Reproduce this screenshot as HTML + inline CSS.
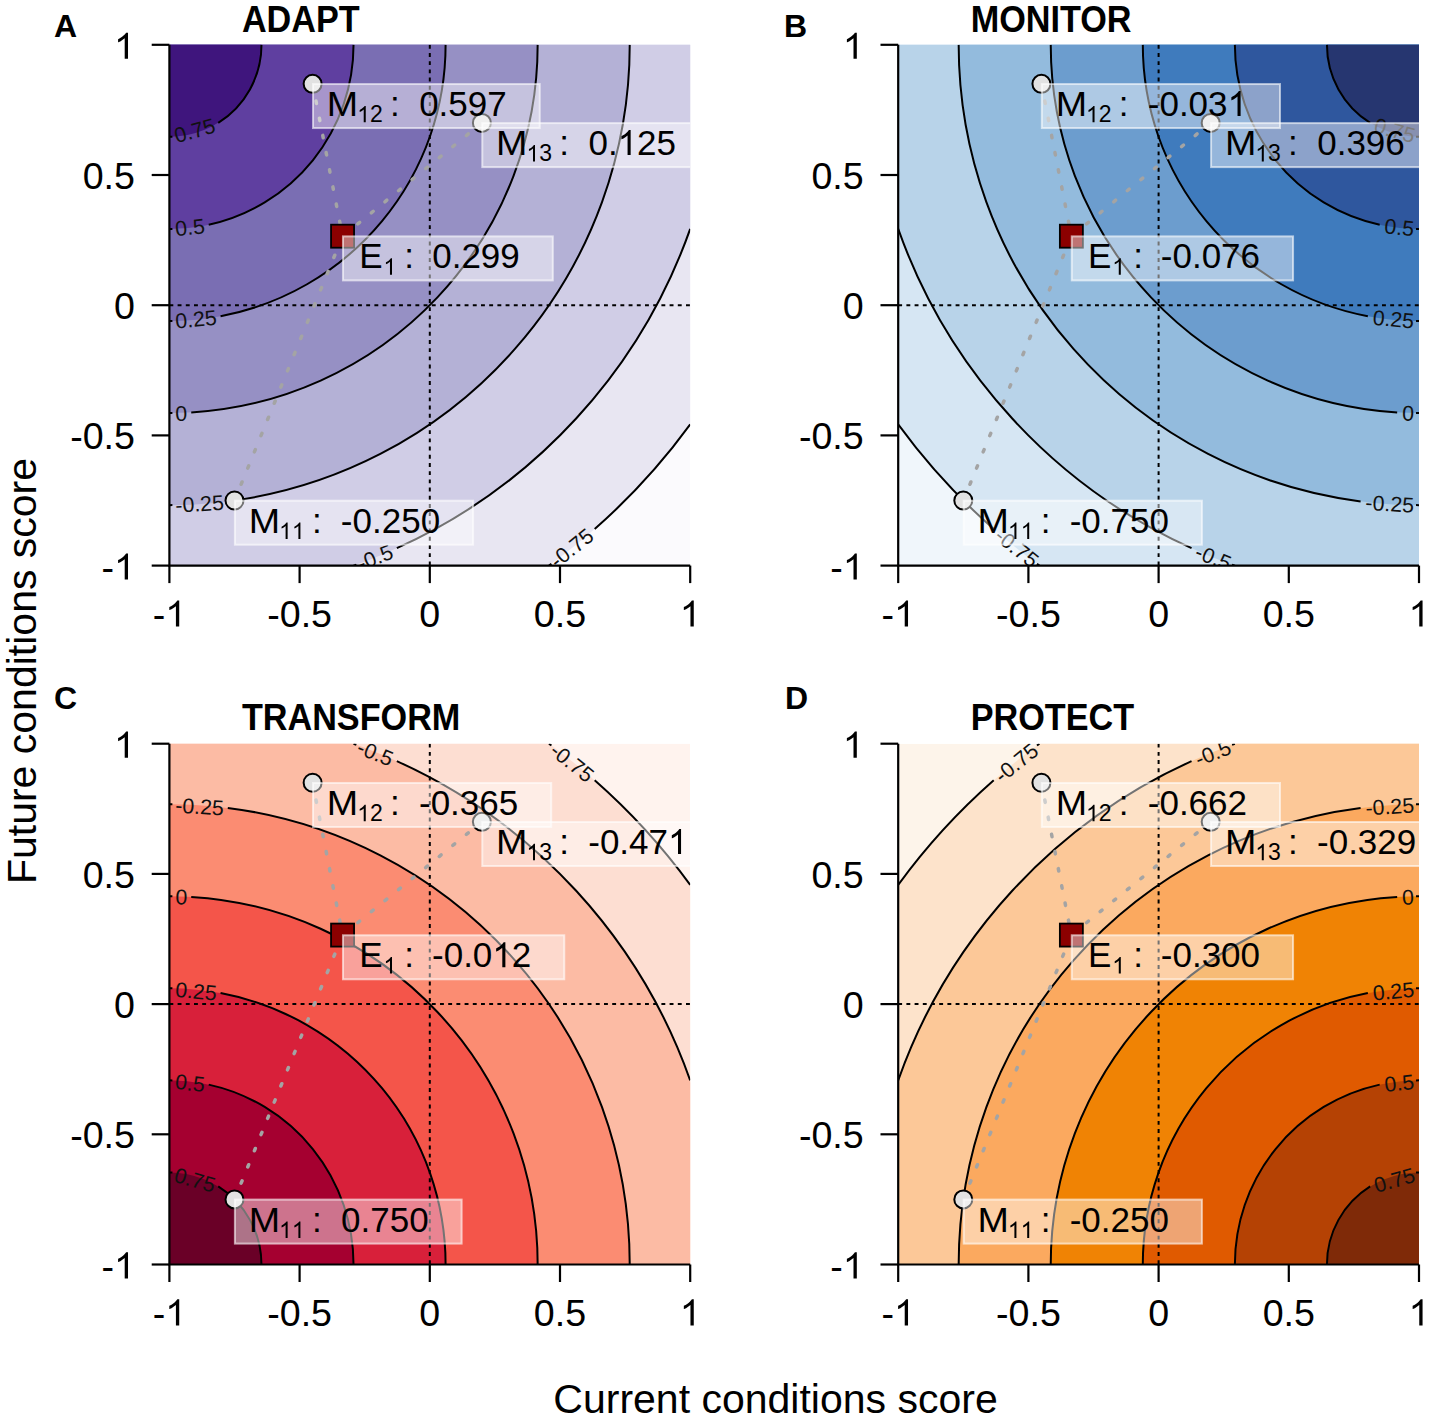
<!DOCTYPE html><html><head><meta charset="utf-8"><style>html,body{margin:0;padding:0;background:#fff;overflow:hidden;}svg{display:block;}text{font-family:"Liberation Sans",sans-serif;}</style></head><body>
<svg width="1429" height="1419" viewBox="0 0 1429 1419">
<rect width="1429" height="1419" fill="#fff"/>
<clipPath id="clipA"><rect x="169.4" y="44.8" width="520.8" height="520.8"/></clipPath>
<g clip-path="url(#clipA)">
<rect x="169.4" y="44.8" width="520.8" height="520.8" fill="#fbfafd"/>
<circle cx="169.40" cy="44.80" r="644.46" fill="#e8e6f2"/>
<circle cx="169.40" cy="44.80" r="552.39" fill="#d0cde6"/>
<circle cx="169.40" cy="44.80" r="460.33" fill="#b4b1d6"/>
<circle cx="169.40" cy="44.80" r="368.26" fill="#9690c4"/>
<circle cx="169.40" cy="44.80" r="276.20" fill="#7a6eb3"/>
<circle cx="169.40" cy="44.80" r="184.13" fill="#5f3fa0"/>
<circle cx="169.40" cy="44.80" r="92.07" fill="#3f157d"/>
<path d="M218.22,122.86 A92.07,92.07 0 0 0 261.47,44.80" fill="none" stroke="#000" stroke-width="2.0"/>
<path d="M169.40,136.87 L172.40,136.82" fill="none" stroke="#000" stroke-width="2.0"/>
<text x="194.81" y="130.86" font-size="21.3" text-anchor="middle" dominant-baseline="central" fill="#111" transform="rotate(-16.01 194.81 130.86)">0.75</text>
<path d="M208.71,224.69 A184.13,184.13 0 0 0 353.53,44.80" fill="none" stroke="#000" stroke-width="2.0"/>
<path d="M169.40,228.93 L172.40,228.91" fill="none" stroke="#000" stroke-width="2.0"/>
<text x="190.05" y="227.81" font-size="21.3" text-anchor="middle" dominant-baseline="central" fill="#111" transform="rotate(-6.16 190.05 227.81)">0.5</text>
<path d="M220.56,316.22 A276.20,276.20 0 0 0 445.60,44.80" fill="none" stroke="#000" stroke-width="2.0"/>
<path d="M169.40,321.00 L172.40,320.98" fill="none" stroke="#000" stroke-width="2.0"/>
<text x="195.98" y="319.61" font-size="21.3" text-anchor="middle" dominant-baseline="central" fill="#111" transform="rotate(-5.34 195.98 319.61)">0.25</text>
<path d="M191.23,412.41 A368.26,368.26 0 0 0 537.66,44.80" fill="none" stroke="#000" stroke-width="2.0"/>
<path d="M169.40,413.06 L172.40,413.05" fill="none" stroke="#000" stroke-width="2.0"/>
<text x="181.32" y="413.74" font-size="21.3" text-anchor="middle" dominant-baseline="central" fill="#111" transform="rotate(-1.70 181.32 413.74)">0</text>
<path d="M227.79,501.41 A460.33,460.33 0 0 0 629.73,44.80" fill="none" stroke="#000" stroke-width="2.0"/>
<path d="M169.40,505.13 L172.40,505.12" fill="none" stroke="#000" stroke-width="2.0"/>
<text x="199.60" y="504.27" font-size="21.3" text-anchor="middle" dominant-baseline="central" fill="#111" transform="rotate(-3.64 199.60 504.27)">-0.25</text>
<path d="M396.85,548.19 A552.39,552.39 0 0 0 690.20,228.93" fill="none" stroke="#000" stroke-width="2.0"/>
<path d="M353.53,565.60 L356.36,564.59" fill="none" stroke="#000" stroke-width="2.0"/>
<text x="375.19" y="557.90" font-size="21.3" text-anchor="middle" dominant-baseline="central" fill="#111" transform="rotate(-21.89 375.19 557.90)">-0.5</text>
<path d="M594.68,529.01 A644.46,644.46 0 0 0 690.20,424.39" fill="none" stroke="#000" stroke-width="2.0"/>
<path d="M548.99,565.60 L551.42,563.83" fill="none" stroke="#000" stroke-width="2.0"/>
<text x="571.84" y="548.31" font-size="21.3" text-anchor="middle" dominant-baseline="central" fill="#111" transform="rotate(-38.69 571.84 548.31)">-0.75</text>
<line x1="169.4" y1="305.20" x2="690.1999999999999" y2="305.20" stroke="#000" stroke-width="2" stroke-dasharray="3.9 4.3"/>
<line x1="429.80" y1="44.8" x2="429.80" y2="565.5999999999999" stroke="#000" stroke-width="2" stroke-dasharray="3.9 4.3"/>
<line x1="234.50" y1="500.50" x2="342.57" y2="236.19" stroke="#a4a4a4" stroke-width="3.5" stroke-linecap="round" stroke-dasharray="2.5 15"/>
<line x1="312.62" y1="83.86" x2="342.57" y2="236.19" stroke="#a4a4a4" stroke-width="3.5" stroke-linecap="round" stroke-dasharray="2.5 15"/>
<line x1="481.88" y1="122.92" x2="342.57" y2="236.19" stroke="#a4a4a4" stroke-width="3.5" stroke-linecap="round" stroke-dasharray="2.5 15"/>
<circle cx="234.50" cy="500.50" r="9" fill="#e2e2e2" stroke="#000" stroke-width="2"/>
<circle cx="312.62" cy="83.86" r="9" fill="#e2e2e2" stroke="#000" stroke-width="2"/>
<circle cx="481.88" cy="122.92" r="9" fill="#e2e2e2" stroke="#000" stroke-width="2"/>
<rect x="331.07" y="224.69" width="23" height="23" fill="#8b0000" stroke="#000" stroke-width="1.8"/>
<rect x="313.02" y="84.06" width="226.72" height="44" fill="#fff" fill-opacity="0.45" stroke="#fff" stroke-opacity="0.6" stroke-width="2"/>
<text transform="translate(342.53 116.06) scale(1.077 1)" font-size="35" text-anchor="middle" fill="#000">M</text>
<g transform="translate(357.17 122.36)" fill="#000" ><path d="M8.58,0.00L6.55,0.00L6.55,-12.88C5.82,-12.19 4.85,-11.50 3.86,-10.92C3.20,-10.53 2.83,-10.49 2.51,-10.40L2.51,-12.37C4.03,-13.09 5.20,-13.94 6.03,-14.79C6.88,-15.64 7.20,-16.10 7.41,-16.47L8.58,-16.47Z"/><text x="12.79" y="0" font-size="23">2</text></g>
<text x="390.02" y="116.06" font-size="35" fill="#000">:</text>
<g transform="translate(419.15 116.06)" fill="#000" ><text x="0.00" y="0" font-size="35">0.597</text></g>
<rect x="482.28" y="123.12" width="226.72" height="44" fill="#fff" fill-opacity="0.45" stroke="#fff" stroke-opacity="0.6" stroke-width="2"/>
<text transform="translate(511.79 155.12) scale(1.077 1)" font-size="35" text-anchor="middle" fill="#000">M</text>
<g transform="translate(526.43 161.42)" fill="#000" ><path d="M8.58,0.00L6.55,0.00L6.55,-12.88C5.82,-12.19 4.85,-11.50 3.86,-10.92C3.20,-10.53 2.83,-10.49 2.51,-10.40L2.51,-12.37C4.03,-13.09 5.20,-13.94 6.03,-14.79C6.88,-15.64 7.20,-16.10 7.41,-16.47L8.58,-16.47Z"/><text x="12.79" y="0" font-size="23">3</text></g>
<text x="559.28" y="155.12" font-size="35" fill="#000">:</text>
<g transform="translate(588.41 155.12)" fill="#000" ><text x="0.00" y="0" font-size="35">0.</text><path d="M42.24,0.00L39.16,0.00L39.16,-19.60C38.04,-18.55 36.57,-17.50 35.07,-16.62C34.05,-16.03 33.49,-15.96 33.00,-15.82L33.00,-18.83C35.31,-19.92 37.10,-21.21 38.36,-22.51C39.65,-23.80 40.14,-24.50 40.46,-25.06L42.24,-25.06Z"/><text x="48.65" y="0" font-size="35">25</text></g>
<rect x="342.97" y="236.39" width="209.82" height="44" fill="#fff" fill-opacity="0.45" stroke="#fff" stroke-opacity="0.6" stroke-width="2"/>
<text x="359.30" y="268.39" font-size="35" fill="#000">E</text>
<g transform="translate(383.42 274.69)" fill="#000" ><path d="M8.58,0.00L6.55,0.00L6.55,-12.88C5.82,-12.19 4.85,-11.50 3.86,-10.92C3.20,-10.53 2.83,-10.49 2.51,-10.40L2.51,-12.37C4.03,-13.09 5.20,-13.94 6.03,-14.79C6.88,-15.64 7.20,-16.10 7.41,-16.47L8.58,-16.47Z"/></g>
<text x="404.37" y="268.39" font-size="35" fill="#000">:</text>
<g transform="translate(432.20 268.39)" fill="#000" ><text x="0.00" y="0" font-size="35">0.299</text></g>
<rect x="234.90" y="500.70" width="238.19" height="44" fill="#fff" fill-opacity="0.45" stroke="#fff" stroke-opacity="0.6" stroke-width="2"/>
<text transform="translate(264.41 532.70) scale(1.077 1)" font-size="35" text-anchor="middle" fill="#000">M</text>
<g transform="translate(279.05 539.00)" fill="#000" ><path d="M8.58,0.00L6.55,0.00L6.55,-12.88C5.82,-12.19 4.85,-11.50 3.86,-10.92C3.20,-10.53 2.83,-10.49 2.51,-10.40L2.51,-12.37C4.03,-13.09 5.20,-13.94 6.03,-14.79C6.88,-15.64 7.20,-16.10 7.41,-16.47L8.58,-16.47Z"/><path d="M21.37,0.00L19.35,0.00L19.35,-12.88C18.61,-12.19 17.64,-11.50 16.66,-10.92C15.99,-10.53 15.62,-10.49 15.30,-10.40L15.30,-12.37C16.82,-13.09 17.99,-13.94 18.82,-14.79C19.67,-15.64 19.99,-16.10 20.20,-16.47L21.37,-16.47Z"/></g>
<text x="311.90" y="532.70" font-size="35" fill="#000">:</text>
<g transform="translate(340.85 532.70)" fill="#000" ><text x="0.00" y="0" font-size="35">-0.250</text></g>
</g>
<path d="M169.4,44.8 V565.5999999999999 H690.1999999999999" fill="none" stroke="#000" stroke-width="2.2"/>
<line x1="151.70000000000002" y1="565.60" x2="169.4" y2="565.60" stroke="#000" stroke-width="2.2"/>
<line x1="169.40" y1="565.5999999999999" x2="169.40" y2="583.0999999999999" stroke="#000" stroke-width="2.2"/>
<g transform="translate(134.90 579.60) scale(1.03 1)" fill="#000" ><text x="-32.45" y="0" font-size="36.5">-</text><path d="M-6.69,0.00L-9.90,0.00L-9.90,-20.44C-11.07,-19.34 -12.60,-18.25 -14.17,-17.34C-15.23,-16.72 -15.81,-16.64 -16.32,-16.50L-16.32,-19.64C-13.91,-20.77 -12.05,-22.12 -10.74,-23.47C-9.39,-24.82 -8.88,-25.55 -8.55,-26.13L-6.69,-26.13Z"/></g>
<g transform="translate(169.40 626.60) scale(1.03 1)" fill="#000" ><text x="-16.23" y="0" font-size="36.5">-</text><path d="M9.54,0.00L6.33,0.00L6.33,-20.44C5.16,-19.34 3.63,-18.25 2.06,-17.34C1.00,-16.72 0.42,-16.64 -0.09,-16.50L-0.09,-19.64C2.32,-20.77 4.18,-22.12 5.49,-23.47C6.84,-24.82 7.35,-25.55 7.68,-26.13L9.54,-26.13Z"/></g>
<line x1="151.70000000000002" y1="435.40" x2="169.4" y2="435.40" stroke="#000" stroke-width="2.2"/>
<line x1="299.60" y1="565.5999999999999" x2="299.60" y2="583.0999999999999" stroke="#000" stroke-width="2.2"/>
<g transform="translate(134.90 449.40) scale(1.03 1)" fill="#000" ><text x="-62.89" y="0" font-size="36.5">-0.5</text></g>
<g transform="translate(299.60 626.60) scale(1.03 1)" fill="#000" ><text x="-31.45" y="0" font-size="36.5">-0.5</text></g>
<line x1="151.70000000000002" y1="305.20" x2="169.4" y2="305.20" stroke="#000" stroke-width="2.2"/>
<line x1="429.80" y1="565.5999999999999" x2="429.80" y2="583.0999999999999" stroke="#000" stroke-width="2.2"/>
<g transform="translate(134.90 319.20) scale(1.03 1)" fill="#000" ><text x="-20.30" y="0" font-size="36.5">0</text></g>
<g transform="translate(429.80 626.60) scale(1.03 1)" fill="#000" ><text x="-10.15" y="0" font-size="36.5">0</text></g>
<line x1="151.70000000000002" y1="175.00" x2="169.4" y2="175.00" stroke="#000" stroke-width="2.2"/>
<line x1="560.00" y1="565.5999999999999" x2="560.00" y2="583.0999999999999" stroke="#000" stroke-width="2.2"/>
<g transform="translate(134.90 189.00) scale(1.03 1)" fill="#000" ><text x="-50.74" y="0" font-size="36.5">0.5</text></g>
<g transform="translate(560.00 626.60) scale(1.03 1)" fill="#000" ><text x="-25.37" y="0" font-size="36.5">0.5</text></g>
<line x1="151.70000000000002" y1="44.80" x2="169.4" y2="44.80" stroke="#000" stroke-width="2.2"/>
<line x1="690.20" y1="565.5999999999999" x2="690.20" y2="583.0999999999999" stroke="#000" stroke-width="2.2"/>
<g transform="translate(134.90 58.80) scale(1.03 1)" fill="#000" ><path d="M-6.69,0.00L-9.90,0.00L-9.90,-20.44C-11.07,-19.34 -12.60,-18.25 -14.17,-17.34C-15.23,-16.72 -15.81,-16.64 -16.32,-16.50L-16.32,-19.64C-13.91,-20.77 -12.05,-22.12 -10.74,-23.47C-9.39,-24.82 -8.88,-25.55 -8.55,-26.13L-6.69,-26.13Z"/></g>
<g transform="translate(690.20 626.60) scale(1.03 1)" fill="#000" ><path d="M3.46,0.00L0.25,0.00L0.25,-20.44C-0.92,-19.34 -2.45,-18.25 -4.02,-17.34C-5.08,-16.72 -5.66,-16.64 -6.17,-16.50L-6.17,-19.64C-3.76,-20.77 -1.90,-22.12 -0.59,-23.47C0.76,-24.82 1.27,-25.55 1.60,-26.13L3.46,-26.13Z"/></g>
<text transform="translate(241.90 31.50) scale(0.945 1)" font-size="36.2" font-weight="bold">ADAPT</text>
<text x="54" y="36.5" font-size="32" font-weight="bold">A</text>
<clipPath id="clipB"><rect x="898.2" y="44.8" width="520.8" height="520.8"/></clipPath>
<g clip-path="url(#clipB)">
<rect x="898.2" y="44.8" width="520.8" height="520.8" fill="#f0f6fb"/>
<circle cx="1419.00" cy="44.80" r="644.46" fill="#d6e6f3"/>
<circle cx="1419.00" cy="44.80" r="552.39" fill="#b8d3e9"/>
<circle cx="1419.00" cy="44.80" r="460.33" fill="#93bbdd"/>
<circle cx="1419.00" cy="44.80" r="368.26" fill="#6c9dce"/>
<circle cx="1419.00" cy="44.80" r="276.20" fill="#3f7bbd"/>
<circle cx="1419.00" cy="44.80" r="184.13" fill="#2f579e"/>
<circle cx="1419.00" cy="44.80" r="92.07" fill="#263670"/>
<path d="M1370.18,122.86 A92.07,92.07 0 0 1 1326.93,44.80" fill="none" stroke="#000" stroke-width="2.0"/>
<path d="M1419.00,136.87 L1416.00,136.82" fill="none" stroke="#000" stroke-width="2.0"/>
<text x="1394.59" y="130.86" font-size="21.3" text-anchor="middle" dominant-baseline="central" fill="#111" transform="rotate(16.01 1394.59 130.86)">0.75</text>
<path d="M1379.69,224.69 A184.13,184.13 0 0 1 1234.87,44.80" fill="none" stroke="#000" stroke-width="2.0"/>
<path d="M1419.00,228.93 L1416.00,228.91" fill="none" stroke="#000" stroke-width="2.0"/>
<text x="1399.35" y="227.81" font-size="21.3" text-anchor="middle" dominant-baseline="central" fill="#111" transform="rotate(6.16 1399.35 227.81)">0.5</text>
<path d="M1367.84,316.22 A276.20,276.20 0 0 1 1142.80,44.80" fill="none" stroke="#000" stroke-width="2.0"/>
<path d="M1419.00,321.00 L1416.00,320.98" fill="none" stroke="#000" stroke-width="2.0"/>
<text x="1393.42" y="319.61" font-size="21.3" text-anchor="middle" dominant-baseline="central" fill="#111" transform="rotate(5.34 1393.42 319.61)">0.25</text>
<path d="M1397.17,412.41 A368.26,368.26 0 0 1 1050.74,44.80" fill="none" stroke="#000" stroke-width="2.0"/>
<path d="M1419.00,413.06 L1416.00,413.05" fill="none" stroke="#000" stroke-width="2.0"/>
<text x="1408.08" y="413.74" font-size="21.3" text-anchor="middle" dominant-baseline="central" fill="#111" transform="rotate(1.70 1408.08 413.74)">0</text>
<path d="M1360.61,501.41 A460.33,460.33 0 0 1 958.67,44.80" fill="none" stroke="#000" stroke-width="2.0"/>
<path d="M1419.00,505.13 L1416.00,505.12" fill="none" stroke="#000" stroke-width="2.0"/>
<text x="1389.80" y="504.27" font-size="21.3" text-anchor="middle" dominant-baseline="central" fill="#111" transform="rotate(3.64 1389.80 504.27)">-0.25</text>
<path d="M1191.55,548.19 A552.39,552.39 0 0 1 898.20,228.93" fill="none" stroke="#000" stroke-width="2.0"/>
<path d="M1234.87,565.60 L1232.04,564.59" fill="none" stroke="#000" stroke-width="2.0"/>
<text x="1213.21" y="557.90" font-size="21.3" text-anchor="middle" dominant-baseline="central" fill="#111" transform="rotate(21.89 1213.21 557.90)">-0.5</text>
<path d="M993.72,529.01 A644.46,644.46 0 0 1 898.20,424.39" fill="none" stroke="#000" stroke-width="2.0"/>
<path d="M1039.41,565.60 L1036.98,563.83" fill="none" stroke="#000" stroke-width="2.0"/>
<text x="1016.56" y="548.31" font-size="21.3" text-anchor="middle" dominant-baseline="central" fill="#111" transform="rotate(38.69 1016.56 548.31)">-0.75</text>
<line x1="898.2" y1="305.20" x2="1419.0" y2="305.20" stroke="#000" stroke-width="2" stroke-dasharray="3.9 4.3"/>
<line x1="1158.60" y1="44.8" x2="1158.60" y2="565.5999999999999" stroke="#000" stroke-width="2" stroke-dasharray="3.9 4.3"/>
<line x1="963.30" y1="500.50" x2="1071.37" y2="236.19" stroke="#a4a4a4" stroke-width="3.5" stroke-linecap="round" stroke-dasharray="2.5 15"/>
<line x1="1041.42" y1="83.86" x2="1071.37" y2="236.19" stroke="#a4a4a4" stroke-width="3.5" stroke-linecap="round" stroke-dasharray="2.5 15"/>
<line x1="1210.68" y1="122.92" x2="1071.37" y2="236.19" stroke="#a4a4a4" stroke-width="3.5" stroke-linecap="round" stroke-dasharray="2.5 15"/>
<circle cx="963.30" cy="500.50" r="9" fill="#e2e2e2" stroke="#000" stroke-width="2"/>
<circle cx="1041.42" cy="83.86" r="9" fill="#e2e2e2" stroke="#000" stroke-width="2"/>
<circle cx="1210.68" cy="122.92" r="9" fill="#e2e2e2" stroke="#000" stroke-width="2"/>
<rect x="1059.87" y="224.69" width="23" height="23" fill="#8b0000" stroke="#000" stroke-width="1.8"/>
<rect x="1041.82" y="84.06" width="238.19" height="44" fill="#fff" fill-opacity="0.45" stroke="#fff" stroke-opacity="0.6" stroke-width="2"/>
<text transform="translate(1071.33 116.06) scale(1.077 1)" font-size="35" text-anchor="middle" fill="#000">M</text>
<g transform="translate(1085.97 122.36)" fill="#000" ><path d="M8.58,0.00L6.55,0.00L6.55,-12.88C5.82,-12.19 4.85,-11.50 3.86,-10.92C3.20,-10.53 2.83,-10.49 2.51,-10.40L2.51,-12.37C4.03,-13.09 5.20,-13.94 6.03,-14.79C6.88,-15.64 7.20,-16.10 7.41,-16.47L8.58,-16.47Z"/><text x="12.79" y="0" font-size="23">2</text></g>
<text x="1118.82" y="116.06" font-size="35" fill="#000">:</text>
<g transform="translate(1147.77 116.06)" fill="#000" ><text x="0.00" y="0" font-size="35">-0.03</text><path d="M92.83,0.00L89.75,0.00L89.75,-19.60C88.63,-18.55 87.16,-17.50 85.66,-16.62C84.64,-16.03 84.08,-15.96 83.59,-15.82L83.59,-18.83C85.90,-19.92 87.69,-21.21 88.95,-22.51C90.24,-23.80 90.73,-24.50 91.05,-25.06L92.83,-25.06Z"/></g>
<rect x="1211.08" y="123.12" width="226.72" height="44" fill="#fff" fill-opacity="0.45" stroke="#fff" stroke-opacity="0.6" stroke-width="2"/>
<text transform="translate(1240.59 155.12) scale(1.077 1)" font-size="35" text-anchor="middle" fill="#000">M</text>
<g transform="translate(1255.23 161.42)" fill="#000" ><path d="M8.58,0.00L6.55,0.00L6.55,-12.88C5.82,-12.19 4.85,-11.50 3.86,-10.92C3.20,-10.53 2.83,-10.49 2.51,-10.40L2.51,-12.37C4.03,-13.09 5.20,-13.94 6.03,-14.79C6.88,-15.64 7.20,-16.10 7.41,-16.47L8.58,-16.47Z"/><text x="12.79" y="0" font-size="23">3</text></g>
<text x="1288.08" y="155.12" font-size="35" fill="#000">:</text>
<g transform="translate(1317.22 155.12)" fill="#000" ><text x="0.00" y="0" font-size="35">0.396</text></g>
<rect x="1071.77" y="236.39" width="221.29" height="44" fill="#fff" fill-opacity="0.45" stroke="#fff" stroke-opacity="0.6" stroke-width="2"/>
<text x="1088.10" y="268.39" font-size="35" fill="#000">E</text>
<g transform="translate(1112.22 274.69)" fill="#000" ><path d="M8.58,0.00L6.55,0.00L6.55,-12.88C5.82,-12.19 4.85,-11.50 3.86,-10.92C3.20,-10.53 2.83,-10.49 2.51,-10.40L2.51,-12.37C4.03,-13.09 5.20,-13.94 6.03,-14.79C6.88,-15.64 7.20,-16.10 7.41,-16.47L8.58,-16.47Z"/></g>
<text x="1133.17" y="268.39" font-size="35" fill="#000">:</text>
<g transform="translate(1160.81 268.39)" fill="#000" ><text x="0.00" y="0" font-size="35">-0.076</text></g>
<rect x="963.70" y="500.70" width="238.19" height="44" fill="#fff" fill-opacity="0.45" stroke="#fff" stroke-opacity="0.6" stroke-width="2"/>
<text transform="translate(993.21 532.70) scale(1.077 1)" font-size="35" text-anchor="middle" fill="#000">M</text>
<g transform="translate(1007.85 539.00)" fill="#000" ><path d="M8.58,0.00L6.55,0.00L6.55,-12.88C5.82,-12.19 4.85,-11.50 3.86,-10.92C3.20,-10.53 2.83,-10.49 2.51,-10.40L2.51,-12.37C4.03,-13.09 5.20,-13.94 6.03,-14.79C6.88,-15.64 7.20,-16.10 7.41,-16.47L8.58,-16.47Z"/><path d="M21.37,0.00L19.35,0.00L19.35,-12.88C18.61,-12.19 17.64,-11.50 16.66,-10.92C15.99,-10.53 15.62,-10.49 15.30,-10.40L15.30,-12.37C16.82,-13.09 17.99,-13.94 18.82,-14.79C19.67,-15.64 19.99,-16.10 20.20,-16.47L21.37,-16.47Z"/></g>
<text x="1040.70" y="532.70" font-size="35" fill="#000">:</text>
<g transform="translate(1069.65 532.70)" fill="#000" ><text x="0.00" y="0" font-size="35">-0.750</text></g>
</g>
<path d="M898.2,44.8 V565.5999999999999 H1419.0" fill="none" stroke="#000" stroke-width="2.2"/>
<line x1="880.5" y1="565.60" x2="898.2" y2="565.60" stroke="#000" stroke-width="2.2"/>
<line x1="898.20" y1="565.5999999999999" x2="898.20" y2="583.0999999999999" stroke="#000" stroke-width="2.2"/>
<g transform="translate(863.70 579.60) scale(1.03 1)" fill="#000" ><text x="-32.45" y="0" font-size="36.5">-</text><path d="M-6.69,0.00L-9.90,0.00L-9.90,-20.44C-11.07,-19.34 -12.60,-18.25 -14.17,-17.34C-15.23,-16.72 -15.81,-16.64 -16.32,-16.50L-16.32,-19.64C-13.91,-20.77 -12.05,-22.12 -10.74,-23.47C-9.39,-24.82 -8.88,-25.55 -8.55,-26.13L-6.69,-26.13Z"/></g>
<g transform="translate(898.20 626.60) scale(1.03 1)" fill="#000" ><text x="-16.23" y="0" font-size="36.5">-</text><path d="M9.54,0.00L6.33,0.00L6.33,-20.44C5.16,-19.34 3.63,-18.25 2.06,-17.34C1.00,-16.72 0.42,-16.64 -0.09,-16.50L-0.09,-19.64C2.32,-20.77 4.18,-22.12 5.49,-23.47C6.84,-24.82 7.35,-25.55 7.68,-26.13L9.54,-26.13Z"/></g>
<line x1="880.5" y1="435.40" x2="898.2" y2="435.40" stroke="#000" stroke-width="2.2"/>
<line x1="1028.40" y1="565.5999999999999" x2="1028.40" y2="583.0999999999999" stroke="#000" stroke-width="2.2"/>
<g transform="translate(863.70 449.40) scale(1.03 1)" fill="#000" ><text x="-62.89" y="0" font-size="36.5">-0.5</text></g>
<g transform="translate(1028.40 626.60) scale(1.03 1)" fill="#000" ><text x="-31.45" y="0" font-size="36.5">-0.5</text></g>
<line x1="880.5" y1="305.20" x2="898.2" y2="305.20" stroke="#000" stroke-width="2.2"/>
<line x1="1158.60" y1="565.5999999999999" x2="1158.60" y2="583.0999999999999" stroke="#000" stroke-width="2.2"/>
<g transform="translate(863.70 319.20) scale(1.03 1)" fill="#000" ><text x="-20.30" y="0" font-size="36.5">0</text></g>
<g transform="translate(1158.60 626.60) scale(1.03 1)" fill="#000" ><text x="-10.15" y="0" font-size="36.5">0</text></g>
<line x1="880.5" y1="175.00" x2="898.2" y2="175.00" stroke="#000" stroke-width="2.2"/>
<line x1="1288.80" y1="565.5999999999999" x2="1288.80" y2="583.0999999999999" stroke="#000" stroke-width="2.2"/>
<g transform="translate(863.70 189.00) scale(1.03 1)" fill="#000" ><text x="-50.74" y="0" font-size="36.5">0.5</text></g>
<g transform="translate(1288.80 626.60) scale(1.03 1)" fill="#000" ><text x="-25.37" y="0" font-size="36.5">0.5</text></g>
<line x1="880.5" y1="44.80" x2="898.2" y2="44.80" stroke="#000" stroke-width="2.2"/>
<line x1="1419.00" y1="565.5999999999999" x2="1419.00" y2="583.0999999999999" stroke="#000" stroke-width="2.2"/>
<g transform="translate(863.70 58.80) scale(1.03 1)" fill="#000" ><path d="M-6.69,0.00L-9.90,0.00L-9.90,-20.44C-11.07,-19.34 -12.60,-18.25 -14.17,-17.34C-15.23,-16.72 -15.81,-16.64 -16.32,-16.50L-16.32,-19.64C-13.91,-20.77 -12.05,-22.12 -10.74,-23.47C-9.39,-24.82 -8.88,-25.55 -8.55,-26.13L-6.69,-26.13Z"/></g>
<g transform="translate(1419.00 626.60) scale(1.03 1)" fill="#000" ><path d="M3.46,0.00L0.25,0.00L0.25,-20.44C-0.92,-19.34 -2.45,-18.25 -4.02,-17.34C-5.08,-16.72 -5.66,-16.64 -6.17,-16.50L-6.17,-19.64C-3.76,-20.77 -1.90,-22.12 -0.59,-23.47C0.76,-24.82 1.27,-25.55 1.60,-26.13L3.46,-26.13Z"/></g>
<text transform="translate(970.70 31.50) scale(0.945 1)" font-size="36.2" font-weight="bold">MONITOR</text>
<text x="784" y="36.5" font-size="32" font-weight="bold">B</text>
<clipPath id="clipC"><rect x="169.4" y="743.7" width="520.8" height="520.8"/></clipPath>
<g clip-path="url(#clipC)">
<rect x="169.4" y="743.7" width="520.8" height="520.8" fill="#fff3ee"/>
<circle cx="169.40" cy="1264.50" r="644.46" fill="#fdded2"/>
<circle cx="169.40" cy="1264.50" r="552.39" fill="#fcbba4"/>
<circle cx="169.40" cy="1264.50" r="460.33" fill="#fb8c72"/>
<circle cx="169.40" cy="1264.50" r="368.26" fill="#f4554a"/>
<circle cx="169.40" cy="1264.50" r="276.20" fill="#d8203a"/>
<circle cx="169.40" cy="1264.50" r="184.13" fill="#a50030"/>
<circle cx="169.40" cy="1264.50" r="92.07" fill="#6a0027"/>
<path d="M218.22,1186.44 A92.07,92.07 0 0 1 261.47,1264.50" fill="none" stroke="#000" stroke-width="2.0"/>
<path d="M169.40,1172.43 L172.40,1172.48" fill="none" stroke="#000" stroke-width="2.0"/>
<text x="194.81" y="1180.44" font-size="21.3" text-anchor="middle" dominant-baseline="central" fill="#111" transform="rotate(16.01 194.81 1180.44)">0.75</text>
<path d="M208.71,1084.61 A184.13,184.13 0 0 1 353.53,1264.50" fill="none" stroke="#000" stroke-width="2.0"/>
<path d="M169.40,1080.37 L172.40,1080.39" fill="none" stroke="#000" stroke-width="2.0"/>
<text x="190.05" y="1083.49" font-size="21.3" text-anchor="middle" dominant-baseline="central" fill="#111" transform="rotate(6.16 190.05 1083.49)">0.5</text>
<path d="M220.56,993.08 A276.20,276.20 0 0 1 445.60,1264.50" fill="none" stroke="#000" stroke-width="2.0"/>
<path d="M169.40,988.30 L172.40,988.32" fill="none" stroke="#000" stroke-width="2.0"/>
<text x="195.98" y="991.69" font-size="21.3" text-anchor="middle" dominant-baseline="central" fill="#111" transform="rotate(5.34 195.98 991.69)">0.25</text>
<path d="M191.23,896.89 A368.26,368.26 0 0 1 537.66,1264.50" fill="none" stroke="#000" stroke-width="2.0"/>
<path d="M169.40,896.24 L172.40,896.25" fill="none" stroke="#000" stroke-width="2.0"/>
<text x="181.32" y="897.56" font-size="21.3" text-anchor="middle" dominant-baseline="central" fill="#111" transform="rotate(1.70 181.32 897.56)">0</text>
<path d="M227.79,807.89 A460.33,460.33 0 0 1 629.73,1264.50" fill="none" stroke="#000" stroke-width="2.0"/>
<path d="M169.40,804.17 L172.40,804.18" fill="none" stroke="#000" stroke-width="2.0"/>
<text x="199.60" y="807.03" font-size="21.3" text-anchor="middle" dominant-baseline="central" fill="#111" transform="rotate(3.64 199.60 807.03)">-0.25</text>
<path d="M396.85,761.11 A552.39,552.39 0 0 1 690.20,1080.37" fill="none" stroke="#000" stroke-width="2.0"/>
<path d="M353.53,743.70 L356.36,744.71" fill="none" stroke="#000" stroke-width="2.0"/>
<text x="375.19" y="753.40" font-size="21.3" text-anchor="middle" dominant-baseline="central" fill="#111" transform="rotate(21.89 375.19 753.40)">-0.5</text>
<path d="M594.68,780.29 A644.46,644.46 0 0 1 690.20,884.91" fill="none" stroke="#000" stroke-width="2.0"/>
<path d="M548.99,743.70 L551.42,745.47" fill="none" stroke="#000" stroke-width="2.0"/>
<text x="571.84" y="762.99" font-size="21.3" text-anchor="middle" dominant-baseline="central" fill="#111" transform="rotate(38.69 571.84 762.99)">-0.75</text>
<line x1="169.4" y1="1004.10" x2="690.1999999999999" y2="1004.10" stroke="#000" stroke-width="2" stroke-dasharray="3.9 4.3"/>
<line x1="429.80" y1="743.7" x2="429.80" y2="1264.5" stroke="#000" stroke-width="2" stroke-dasharray="3.9 4.3"/>
<line x1="234.50" y1="1199.40" x2="342.57" y2="935.09" stroke="#a4a4a4" stroke-width="3.5" stroke-linecap="round" stroke-dasharray="2.5 15"/>
<line x1="312.62" y1="782.76" x2="342.57" y2="935.09" stroke="#a4a4a4" stroke-width="3.5" stroke-linecap="round" stroke-dasharray="2.5 15"/>
<line x1="481.88" y1="821.82" x2="342.57" y2="935.09" stroke="#a4a4a4" stroke-width="3.5" stroke-linecap="round" stroke-dasharray="2.5 15"/>
<circle cx="234.50" cy="1199.40" r="9" fill="#e2e2e2" stroke="#000" stroke-width="2"/>
<circle cx="312.62" cy="782.76" r="9" fill="#e2e2e2" stroke="#000" stroke-width="2"/>
<circle cx="481.88" cy="821.82" r="9" fill="#e2e2e2" stroke="#000" stroke-width="2"/>
<rect x="331.07" y="923.59" width="23" height="23" fill="#8b0000" stroke="#000" stroke-width="1.8"/>
<rect x="313.02" y="782.96" width="238.19" height="44" fill="#fff" fill-opacity="0.45" stroke="#fff" stroke-opacity="0.6" stroke-width="2"/>
<text transform="translate(342.53 814.96) scale(1.077 1)" font-size="35" text-anchor="middle" fill="#000">M</text>
<g transform="translate(357.17 821.26)" fill="#000" ><path d="M8.58,0.00L6.55,0.00L6.55,-12.88C5.82,-12.19 4.85,-11.50 3.86,-10.92C3.20,-10.53 2.83,-10.49 2.51,-10.40L2.51,-12.37C4.03,-13.09 5.20,-13.94 6.03,-14.79C6.88,-15.64 7.20,-16.10 7.41,-16.47L8.58,-16.47Z"/><text x="12.79" y="0" font-size="23">2</text></g>
<text x="390.02" y="814.96" font-size="35" fill="#000">:</text>
<g transform="translate(418.97 814.96)" fill="#000" ><text x="0.00" y="0" font-size="35">-0.365</text></g>
<rect x="482.28" y="822.02" width="238.19" height="44" fill="#fff" fill-opacity="0.45" stroke="#fff" stroke-opacity="0.6" stroke-width="2"/>
<text transform="translate(511.79 854.02) scale(1.077 1)" font-size="35" text-anchor="middle" fill="#000">M</text>
<g transform="translate(526.43 860.32)" fill="#000" ><path d="M8.58,0.00L6.55,0.00L6.55,-12.88C5.82,-12.19 4.85,-11.50 3.86,-10.92C3.20,-10.53 2.83,-10.49 2.51,-10.40L2.51,-12.37C4.03,-13.09 5.20,-13.94 6.03,-14.79C6.88,-15.64 7.20,-16.10 7.41,-16.47L8.58,-16.47Z"/><text x="12.79" y="0" font-size="23">3</text></g>
<text x="559.28" y="854.02" font-size="35" fill="#000">:</text>
<g transform="translate(588.23 854.02)" fill="#000" ><text x="0.00" y="0" font-size="35">-0.47</text><path d="M92.83,0.00L89.75,0.00L89.75,-19.60C88.63,-18.55 87.16,-17.50 85.66,-16.62C84.64,-16.03 84.08,-15.96 83.59,-15.82L83.59,-18.83C85.90,-19.92 87.69,-21.21 88.95,-22.51C90.24,-23.80 90.73,-24.50 91.05,-25.06L92.83,-25.06Z"/></g>
<rect x="342.97" y="935.29" width="221.29" height="44" fill="#fff" fill-opacity="0.45" stroke="#fff" stroke-opacity="0.6" stroke-width="2"/>
<text x="359.30" y="967.29" font-size="35" fill="#000">E</text>
<g transform="translate(383.42 973.59)" fill="#000" ><path d="M8.58,0.00L6.55,0.00L6.55,-12.88C5.82,-12.19 4.85,-11.50 3.86,-10.92C3.20,-10.53 2.83,-10.49 2.51,-10.40L2.51,-12.37C4.03,-13.09 5.20,-13.94 6.03,-14.79C6.88,-15.64 7.20,-16.10 7.41,-16.47L8.58,-16.47Z"/></g>
<text x="404.37" y="967.29" font-size="35" fill="#000">:</text>
<g transform="translate(432.01 967.29)" fill="#000" ><text x="0.00" y="0" font-size="35">-0.0</text><path d="M73.37,0.00L70.29,0.00L70.29,-19.60C69.17,-18.55 67.70,-17.50 66.19,-16.62C65.18,-16.03 64.62,-15.96 64.13,-15.82L64.13,-18.83C66.44,-19.92 68.22,-21.21 69.48,-22.51C70.78,-23.80 71.27,-24.50 71.58,-25.06L73.37,-25.06Z"/><text x="79.78" y="0" font-size="35">2</text></g>
<rect x="234.90" y="1199.60" width="226.72" height="44" fill="#fff" fill-opacity="0.45" stroke="#fff" stroke-opacity="0.6" stroke-width="2"/>
<text transform="translate(264.41 1231.60) scale(1.077 1)" font-size="35" text-anchor="middle" fill="#000">M</text>
<g transform="translate(279.05 1237.90)" fill="#000" ><path d="M8.58,0.00L6.55,0.00L6.55,-12.88C5.82,-12.19 4.85,-11.50 3.86,-10.92C3.20,-10.53 2.83,-10.49 2.51,-10.40L2.51,-12.37C4.03,-13.09 5.20,-13.94 6.03,-14.79C6.88,-15.64 7.20,-16.10 7.41,-16.47L8.58,-16.47Z"/><path d="M21.37,0.00L19.35,0.00L19.35,-12.88C18.61,-12.19 17.64,-11.50 16.66,-10.92C15.99,-10.53 15.62,-10.49 15.30,-10.40L15.30,-12.37C16.82,-13.09 17.99,-13.94 18.82,-14.79C19.67,-15.64 19.99,-16.10 20.20,-16.47L21.37,-16.47Z"/></g>
<text x="311.90" y="1231.60" font-size="35" fill="#000">:</text>
<g transform="translate(341.03 1231.60)" fill="#000" ><text x="0.00" y="0" font-size="35">0.750</text></g>
</g>
<path d="M169.4,743.7 V1264.5 H690.1999999999999" fill="none" stroke="#000" stroke-width="2.2"/>
<line x1="151.70000000000002" y1="1264.50" x2="169.4" y2="1264.50" stroke="#000" stroke-width="2.2"/>
<line x1="169.40" y1="1264.5" x2="169.40" y2="1282.0" stroke="#000" stroke-width="2.2"/>
<g transform="translate(134.90 1278.50) scale(1.03 1)" fill="#000" ><text x="-32.45" y="0" font-size="36.5">-</text><path d="M-6.69,0.00L-9.90,0.00L-9.90,-20.44C-11.07,-19.34 -12.60,-18.25 -14.17,-17.34C-15.23,-16.72 -15.81,-16.64 -16.32,-16.50L-16.32,-19.64C-13.91,-20.77 -12.05,-22.12 -10.74,-23.47C-9.39,-24.82 -8.88,-25.55 -8.55,-26.13L-6.69,-26.13Z"/></g>
<g transform="translate(169.40 1325.50) scale(1.03 1)" fill="#000" ><text x="-16.23" y="0" font-size="36.5">-</text><path d="M9.54,0.00L6.33,0.00L6.33,-20.44C5.16,-19.34 3.63,-18.25 2.06,-17.34C1.00,-16.72 0.42,-16.64 -0.09,-16.50L-0.09,-19.64C2.32,-20.77 4.18,-22.12 5.49,-23.47C6.84,-24.82 7.35,-25.55 7.68,-26.13L9.54,-26.13Z"/></g>
<line x1="151.70000000000002" y1="1134.30" x2="169.4" y2="1134.30" stroke="#000" stroke-width="2.2"/>
<line x1="299.60" y1="1264.5" x2="299.60" y2="1282.0" stroke="#000" stroke-width="2.2"/>
<g transform="translate(134.90 1148.30) scale(1.03 1)" fill="#000" ><text x="-62.89" y="0" font-size="36.5">-0.5</text></g>
<g transform="translate(299.60 1325.50) scale(1.03 1)" fill="#000" ><text x="-31.45" y="0" font-size="36.5">-0.5</text></g>
<line x1="151.70000000000002" y1="1004.10" x2="169.4" y2="1004.10" stroke="#000" stroke-width="2.2"/>
<line x1="429.80" y1="1264.5" x2="429.80" y2="1282.0" stroke="#000" stroke-width="2.2"/>
<g transform="translate(134.90 1018.10) scale(1.03 1)" fill="#000" ><text x="-20.30" y="0" font-size="36.5">0</text></g>
<g transform="translate(429.80 1325.50) scale(1.03 1)" fill="#000" ><text x="-10.15" y="0" font-size="36.5">0</text></g>
<line x1="151.70000000000002" y1="873.90" x2="169.4" y2="873.90" stroke="#000" stroke-width="2.2"/>
<line x1="560.00" y1="1264.5" x2="560.00" y2="1282.0" stroke="#000" stroke-width="2.2"/>
<g transform="translate(134.90 887.90) scale(1.03 1)" fill="#000" ><text x="-50.74" y="0" font-size="36.5">0.5</text></g>
<g transform="translate(560.00 1325.50) scale(1.03 1)" fill="#000" ><text x="-25.37" y="0" font-size="36.5">0.5</text></g>
<line x1="151.70000000000002" y1="743.70" x2="169.4" y2="743.70" stroke="#000" stroke-width="2.2"/>
<line x1="690.20" y1="1264.5" x2="690.20" y2="1282.0" stroke="#000" stroke-width="2.2"/>
<g transform="translate(134.90 757.70) scale(1.03 1)" fill="#000" ><path d="M-6.69,0.00L-9.90,0.00L-9.90,-20.44C-11.07,-19.34 -12.60,-18.25 -14.17,-17.34C-15.23,-16.72 -15.81,-16.64 -16.32,-16.50L-16.32,-19.64C-13.91,-20.77 -12.05,-22.12 -10.74,-23.47C-9.39,-24.82 -8.88,-25.55 -8.55,-26.13L-6.69,-26.13Z"/></g>
<g transform="translate(690.20 1325.50) scale(1.03 1)" fill="#000" ><path d="M3.46,0.00L0.25,0.00L0.25,-20.44C-0.92,-19.34 -2.45,-18.25 -4.02,-17.34C-5.08,-16.72 -5.66,-16.64 -6.17,-16.50L-6.17,-19.64C-3.76,-20.77 -1.90,-22.12 -0.59,-23.47C0.76,-24.82 1.27,-25.55 1.60,-26.13L3.46,-26.13Z"/></g>
<text transform="translate(241.90 730.40) scale(0.945 1)" font-size="36.2" font-weight="bold">TRANSFORM</text>
<text x="54" y="709" font-size="32" font-weight="bold">C</text>
<clipPath id="clipD"><rect x="898.2" y="743.7" width="520.8" height="520.8"/></clipPath>
<g clip-path="url(#clipD)">
<rect x="898.2" y="743.7" width="520.8" height="520.8" fill="#fdf4ea"/>
<circle cx="1419.00" cy="1264.50" r="644.46" fill="#fde3cb"/>
<circle cx="1419.00" cy="1264.50" r="552.39" fill="#fcc898"/>
<circle cx="1419.00" cy="1264.50" r="460.33" fill="#fba95f"/>
<circle cx="1419.00" cy="1264.50" r="368.26" fill="#f08304"/>
<circle cx="1419.00" cy="1264.50" r="276.20" fill="#e05a00"/>
<circle cx="1419.00" cy="1264.50" r="184.13" fill="#b54204"/>
<circle cx="1419.00" cy="1264.50" r="92.07" fill="#7f2a08"/>
<path d="M1370.18,1186.44 A92.07,92.07 0 0 0 1326.93,1264.50" fill="none" stroke="#000" stroke-width="2.0"/>
<path d="M1419.00,1172.43 L1416.00,1172.48" fill="none" stroke="#000" stroke-width="2.0"/>
<text x="1394.59" y="1180.44" font-size="21.3" text-anchor="middle" dominant-baseline="central" fill="#111" transform="rotate(-16.01 1394.59 1180.44)">0.75</text>
<path d="M1379.69,1084.61 A184.13,184.13 0 0 0 1234.87,1264.50" fill="none" stroke="#000" stroke-width="2.0"/>
<path d="M1419.00,1080.37 L1416.00,1080.39" fill="none" stroke="#000" stroke-width="2.0"/>
<text x="1399.35" y="1083.49" font-size="21.3" text-anchor="middle" dominant-baseline="central" fill="#111" transform="rotate(-6.16 1399.35 1083.49)">0.5</text>
<path d="M1367.84,993.08 A276.20,276.20 0 0 0 1142.80,1264.50" fill="none" stroke="#000" stroke-width="2.0"/>
<path d="M1419.00,988.30 L1416.00,988.32" fill="none" stroke="#000" stroke-width="2.0"/>
<text x="1393.42" y="991.69" font-size="21.3" text-anchor="middle" dominant-baseline="central" fill="#111" transform="rotate(-5.34 1393.42 991.69)">0.25</text>
<path d="M1397.17,896.89 A368.26,368.26 0 0 0 1050.74,1264.50" fill="none" stroke="#000" stroke-width="2.0"/>
<path d="M1419.00,896.24 L1416.00,896.25" fill="none" stroke="#000" stroke-width="2.0"/>
<text x="1408.08" y="897.56" font-size="21.3" text-anchor="middle" dominant-baseline="central" fill="#111" transform="rotate(-1.70 1408.08 897.56)">0</text>
<path d="M1360.61,807.89 A460.33,460.33 0 0 0 958.67,1264.50" fill="none" stroke="#000" stroke-width="2.0"/>
<path d="M1419.00,804.17 L1416.00,804.18" fill="none" stroke="#000" stroke-width="2.0"/>
<text x="1389.80" y="807.03" font-size="21.3" text-anchor="middle" dominant-baseline="central" fill="#111" transform="rotate(-3.64 1389.80 807.03)">-0.25</text>
<path d="M1191.55,761.11 A552.39,552.39 0 0 0 898.20,1080.37" fill="none" stroke="#000" stroke-width="2.0"/>
<path d="M1234.87,743.70 L1232.04,744.71" fill="none" stroke="#000" stroke-width="2.0"/>
<text x="1213.21" y="753.40" font-size="21.3" text-anchor="middle" dominant-baseline="central" fill="#111" transform="rotate(-21.89 1213.21 753.40)">-0.5</text>
<path d="M993.72,780.29 A644.46,644.46 0 0 0 898.20,884.91" fill="none" stroke="#000" stroke-width="2.0"/>
<path d="M1039.41,743.70 L1036.98,745.47" fill="none" stroke="#000" stroke-width="2.0"/>
<text x="1016.56" y="762.99" font-size="21.3" text-anchor="middle" dominant-baseline="central" fill="#111" transform="rotate(-38.69 1016.56 762.99)">-0.75</text>
<line x1="898.2" y1="1004.10" x2="1419.0" y2="1004.10" stroke="#000" stroke-width="2" stroke-dasharray="3.9 4.3"/>
<line x1="1158.60" y1="743.7" x2="1158.60" y2="1264.5" stroke="#000" stroke-width="2" stroke-dasharray="3.9 4.3"/>
<line x1="963.30" y1="1199.40" x2="1071.37" y2="935.09" stroke="#a4a4a4" stroke-width="3.5" stroke-linecap="round" stroke-dasharray="2.5 15"/>
<line x1="1041.42" y1="782.76" x2="1071.37" y2="935.09" stroke="#a4a4a4" stroke-width="3.5" stroke-linecap="round" stroke-dasharray="2.5 15"/>
<line x1="1210.68" y1="821.82" x2="1071.37" y2="935.09" stroke="#a4a4a4" stroke-width="3.5" stroke-linecap="round" stroke-dasharray="2.5 15"/>
<circle cx="963.30" cy="1199.40" r="9" fill="#e2e2e2" stroke="#000" stroke-width="2"/>
<circle cx="1041.42" cy="782.76" r="9" fill="#e2e2e2" stroke="#000" stroke-width="2"/>
<circle cx="1210.68" cy="821.82" r="9" fill="#e2e2e2" stroke="#000" stroke-width="2"/>
<rect x="1059.87" y="923.59" width="23" height="23" fill="#8b0000" stroke="#000" stroke-width="1.8"/>
<rect x="1041.82" y="782.96" width="238.19" height="44" fill="#fff" fill-opacity="0.45" stroke="#fff" stroke-opacity="0.6" stroke-width="2"/>
<text transform="translate(1071.33 814.96) scale(1.077 1)" font-size="35" text-anchor="middle" fill="#000">M</text>
<g transform="translate(1085.97 821.26)" fill="#000" ><path d="M8.58,0.00L6.55,0.00L6.55,-12.88C5.82,-12.19 4.85,-11.50 3.86,-10.92C3.20,-10.53 2.83,-10.49 2.51,-10.40L2.51,-12.37C4.03,-13.09 5.20,-13.94 6.03,-14.79C6.88,-15.64 7.20,-16.10 7.41,-16.47L8.58,-16.47Z"/><text x="12.79" y="0" font-size="23">2</text></g>
<text x="1118.82" y="814.96" font-size="35" fill="#000">:</text>
<g transform="translate(1147.77 814.96)" fill="#000" ><text x="0.00" y="0" font-size="35">-0.662</text></g>
<rect x="1211.08" y="822.02" width="238.19" height="44" fill="#fff" fill-opacity="0.45" stroke="#fff" stroke-opacity="0.6" stroke-width="2"/>
<text transform="translate(1240.59 854.02) scale(1.077 1)" font-size="35" text-anchor="middle" fill="#000">M</text>
<g transform="translate(1255.23 860.32)" fill="#000" ><path d="M8.58,0.00L6.55,0.00L6.55,-12.88C5.82,-12.19 4.85,-11.50 3.86,-10.92C3.20,-10.53 2.83,-10.49 2.51,-10.40L2.51,-12.37C4.03,-13.09 5.20,-13.94 6.03,-14.79C6.88,-15.64 7.20,-16.10 7.41,-16.47L8.58,-16.47Z"/><text x="12.79" y="0" font-size="23">3</text></g>
<text x="1288.08" y="854.02" font-size="35" fill="#000">:</text>
<g transform="translate(1317.03 854.02)" fill="#000" ><text x="0.00" y="0" font-size="35">-0.329</text></g>
<rect x="1071.77" y="935.29" width="221.29" height="44" fill="#fff" fill-opacity="0.45" stroke="#fff" stroke-opacity="0.6" stroke-width="2"/>
<text x="1088.10" y="967.29" font-size="35" fill="#000">E</text>
<g transform="translate(1112.22 973.59)" fill="#000" ><path d="M8.58,0.00L6.55,0.00L6.55,-12.88C5.82,-12.19 4.85,-11.50 3.86,-10.92C3.20,-10.53 2.83,-10.49 2.51,-10.40L2.51,-12.37C4.03,-13.09 5.20,-13.94 6.03,-14.79C6.88,-15.64 7.20,-16.10 7.41,-16.47L8.58,-16.47Z"/></g>
<text x="1133.17" y="967.29" font-size="35" fill="#000">:</text>
<g transform="translate(1160.81 967.29)" fill="#000" ><text x="0.00" y="0" font-size="35">-0.300</text></g>
<rect x="963.70" y="1199.60" width="238.19" height="44" fill="#fff" fill-opacity="0.45" stroke="#fff" stroke-opacity="0.6" stroke-width="2"/>
<text transform="translate(993.21 1231.60) scale(1.077 1)" font-size="35" text-anchor="middle" fill="#000">M</text>
<g transform="translate(1007.85 1237.90)" fill="#000" ><path d="M8.58,0.00L6.55,0.00L6.55,-12.88C5.82,-12.19 4.85,-11.50 3.86,-10.92C3.20,-10.53 2.83,-10.49 2.51,-10.40L2.51,-12.37C4.03,-13.09 5.20,-13.94 6.03,-14.79C6.88,-15.64 7.20,-16.10 7.41,-16.47L8.58,-16.47Z"/><path d="M21.37,0.00L19.35,0.00L19.35,-12.88C18.61,-12.19 17.64,-11.50 16.66,-10.92C15.99,-10.53 15.62,-10.49 15.30,-10.40L15.30,-12.37C16.82,-13.09 17.99,-13.94 18.82,-14.79C19.67,-15.64 19.99,-16.10 20.20,-16.47L21.37,-16.47Z"/></g>
<text x="1040.70" y="1231.60" font-size="35" fill="#000">:</text>
<g transform="translate(1069.65 1231.60)" fill="#000" ><text x="0.00" y="0" font-size="35">-0.250</text></g>
</g>
<path d="M898.2,743.7 V1264.5 H1419.0" fill="none" stroke="#000" stroke-width="2.2"/>
<line x1="880.5" y1="1264.50" x2="898.2" y2="1264.50" stroke="#000" stroke-width="2.2"/>
<line x1="898.20" y1="1264.5" x2="898.20" y2="1282.0" stroke="#000" stroke-width="2.2"/>
<g transform="translate(863.70 1278.50) scale(1.03 1)" fill="#000" ><text x="-32.45" y="0" font-size="36.5">-</text><path d="M-6.69,0.00L-9.90,0.00L-9.90,-20.44C-11.07,-19.34 -12.60,-18.25 -14.17,-17.34C-15.23,-16.72 -15.81,-16.64 -16.32,-16.50L-16.32,-19.64C-13.91,-20.77 -12.05,-22.12 -10.74,-23.47C-9.39,-24.82 -8.88,-25.55 -8.55,-26.13L-6.69,-26.13Z"/></g>
<g transform="translate(898.20 1325.50) scale(1.03 1)" fill="#000" ><text x="-16.23" y="0" font-size="36.5">-</text><path d="M9.54,0.00L6.33,0.00L6.33,-20.44C5.16,-19.34 3.63,-18.25 2.06,-17.34C1.00,-16.72 0.42,-16.64 -0.09,-16.50L-0.09,-19.64C2.32,-20.77 4.18,-22.12 5.49,-23.47C6.84,-24.82 7.35,-25.55 7.68,-26.13L9.54,-26.13Z"/></g>
<line x1="880.5" y1="1134.30" x2="898.2" y2="1134.30" stroke="#000" stroke-width="2.2"/>
<line x1="1028.40" y1="1264.5" x2="1028.40" y2="1282.0" stroke="#000" stroke-width="2.2"/>
<g transform="translate(863.70 1148.30) scale(1.03 1)" fill="#000" ><text x="-62.89" y="0" font-size="36.5">-0.5</text></g>
<g transform="translate(1028.40 1325.50) scale(1.03 1)" fill="#000" ><text x="-31.45" y="0" font-size="36.5">-0.5</text></g>
<line x1="880.5" y1="1004.10" x2="898.2" y2="1004.10" stroke="#000" stroke-width="2.2"/>
<line x1="1158.60" y1="1264.5" x2="1158.60" y2="1282.0" stroke="#000" stroke-width="2.2"/>
<g transform="translate(863.70 1018.10) scale(1.03 1)" fill="#000" ><text x="-20.30" y="0" font-size="36.5">0</text></g>
<g transform="translate(1158.60 1325.50) scale(1.03 1)" fill="#000" ><text x="-10.15" y="0" font-size="36.5">0</text></g>
<line x1="880.5" y1="873.90" x2="898.2" y2="873.90" stroke="#000" stroke-width="2.2"/>
<line x1="1288.80" y1="1264.5" x2="1288.80" y2="1282.0" stroke="#000" stroke-width="2.2"/>
<g transform="translate(863.70 887.90) scale(1.03 1)" fill="#000" ><text x="-50.74" y="0" font-size="36.5">0.5</text></g>
<g transform="translate(1288.80 1325.50) scale(1.03 1)" fill="#000" ><text x="-25.37" y="0" font-size="36.5">0.5</text></g>
<line x1="880.5" y1="743.70" x2="898.2" y2="743.70" stroke="#000" stroke-width="2.2"/>
<line x1="1419.00" y1="1264.5" x2="1419.00" y2="1282.0" stroke="#000" stroke-width="2.2"/>
<g transform="translate(863.70 757.70) scale(1.03 1)" fill="#000" ><path d="M-6.69,0.00L-9.90,0.00L-9.90,-20.44C-11.07,-19.34 -12.60,-18.25 -14.17,-17.34C-15.23,-16.72 -15.81,-16.64 -16.32,-16.50L-16.32,-19.64C-13.91,-20.77 -12.05,-22.12 -10.74,-23.47C-9.39,-24.82 -8.88,-25.55 -8.55,-26.13L-6.69,-26.13Z"/></g>
<g transform="translate(1419.00 1325.50) scale(1.03 1)" fill="#000" ><path d="M3.46,0.00L0.25,0.00L0.25,-20.44C-0.92,-19.34 -2.45,-18.25 -4.02,-17.34C-5.08,-16.72 -5.66,-16.64 -6.17,-16.50L-6.17,-19.64C-3.76,-20.77 -1.90,-22.12 -0.59,-23.47C0.76,-24.82 1.27,-25.55 1.60,-26.13L3.46,-26.13Z"/></g>
<text transform="translate(970.70 730.40) scale(0.945 1)" font-size="36.2" font-weight="bold">PROTECT</text>
<text x="785" y="709" font-size="32" font-weight="bold">D</text>
<text x="775.5" y="1412.5" font-size="41" text-anchor="middle">Current conditions score</text>
<text transform="translate(35.7 671) rotate(-90)" font-size="41" text-anchor="middle">Future conditions score</text>
</svg></body></html>
